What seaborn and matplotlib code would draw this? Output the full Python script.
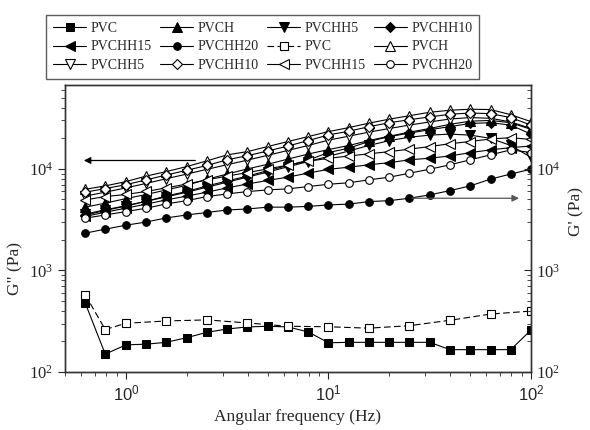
import numpy as np
import pandas as pd
import seaborn as sns
from matplotlib import pyplot as plt

# angular frequency (Hz), 5 points per decade
freq = [0.63, 0.79, 1.0, 1.26, 1.58, 2.0, 2.51, 3.16, 3.98, 5.01, 6.31, 7.94,
        10, 12.6, 15.8, 20, 25.1, 31.6, 39.8, 50.1, 63.1, 79.4, 100]

# filled markers
pvc_f = [475, 150, 185, 188, 196, 218, 246, 265, 278, 282, 278, 248,
         194, 196, 196, 196, 196, 196, 166, 166, 166, 166, 259]
pvch_f = [4200, 4600, 5100, 5600, 6200, 6900, 7900, 8900, 10000, 11100, 12500, 14000,
          15500, 17000, 19000, 21000, 23000, 25000, 27500, 29500, 30000, 28500, 24500]
pvchh5_f = [3600, 3950, 4350, 4800, 5300, 5900, 6600, 7400, 8300, 9300, 10500, 11800,
            13300, 15000, 17000, 19000, 20500, 21500, 22000, 21500, 20000, 17000, 13000]
pvchh10_f = [3500, 3900, 4300, 4800, 5400, 6000, 6800, 7600, 8500, 9600, 10800, 12200,
             14500, 16000, 18600, 20800, 22500, 24300, 26100, 28000, 28500, 27000, 22000]
pvchh15_f = [3400, 3750, 4100, 4500, 4950, 5400, 5900, 6500, 7100, 7700, 8300, 9100,
             9900, 10400, 10970, 11530, 12280, 12750, 13400, 14460, 15400, 16200, 16800]
pvchh20_f = [2330, 2550, 2790, 3000, 3290, 3520, 3720, 3940, 4030, 4200, 4200, 4270,
             4420, 4500, 4760, 4870, 5140, 5550, 6110, 6800, 7930, 8900, 9930]

# open markers
freq_pvc_o = [0.63, 0.79, 1.0, 1.58, 2.51, 3.98, 6.31, 10, 15.8, 25.1, 39.8, 63.1, 100]
pvc_o = [574, 262, 302, 318, 326, 304, 282, 279, 270, 286, 323, 372, 398]
pvch_o = [6300, 6800, 7500, 8500, 9400, 10550, 12000, 13750, 14800, 16600, 18600, 20800,
          23300, 25500, 28200, 30900, 33400, 36100, 37800, 38700, 38400, 34200, 29200]
pvchh5_o = [5400, 5900, 6500, 7200, 8000, 8900, 9900, 11000, 12200, 13600, 15200, 17000,
            19200, 21000, 23000, 25000, 27000, 29000, 31000, 32000, 31500, 29000, 25000]
pvchh10_o = [5900, 6400, 7000, 7800, 8700, 9700, 10800, 12300, 13500, 15000, 16800, 19000,
             21600, 23500, 26000, 28500, 30500, 32500, 34500, 35500, 35000, 32000, 27000]
pvchh15_o = [4950, 5340, 5600, 6000, 6500, 7100, 7800, 8500, 9200, 10000, 10900, 11900,
             12700, 13400, 14070, 14800, 15640, 16600, 17700, 18600, 19700, 20300, 19500]
pvchh20_o = [3270, 3520, 3800, 4100, 4520, 4870, 5340, 5670, 5980, 6210, 6360, 6700,
             7060, 7300, 7800, 8290, 9070, 9930, 10970, 12280, 13750, 15400, 14500]

labels = ["PVC", "PVCH", "PVCHH5", "PVCHH10", "PVCHH15", "PVCHH20"]
marks = ["s", "^", "v", "D", "<", "o"]
filled = [pvc_f, pvch_f, pvchh5_f, pvchh10_f, pvchh15_f, pvchh20_f]
opened = [pvc_o, pvch_o, pvchh5_o, pvchh10_o, pvchh15_o, pvchh20_o]

sns.set_style("ticks")
plt.rcParams['font.family'] = ['Liberation Serif', 'DejaVu Serif']
plt.rcParams['mathtext.fontset'] = 'custom'
plt.rcParams['mathtext.rm'] = 'Liberation Serif'

fig = plt.figure(figsize=(5.9, 4.3), dpi=100)
ax = fig.add_axes([65 / 590, 58 / 430, 466 / 590, 287 / 430])


def msize(m):
    if m == "D":
        return 5
    if m in ("s", "o"):
        return 5.5
    return 6.5


for lab, m, vals in zip(labels, marks, filled):
    sns.lineplot(x=freq, y=vals, ax=ax, color="black", lw=0.8, marker=m,
                 markersize=msize(m), markerfacecolor="black", markeredgecolor="black",
                 label=lab, estimator=None, sort=False)
for lab, m, vals in zip(labels, marks, opened):
    xs = freq_pvc_o if lab == "PVC" else freq
    ls = (0, (6, 3)) if lab == "PVC" else "-"
    sns.lineplot(x=xs, y=vals, ax=ax, color="black", lw=0.8, marker=m, linestyle=ls,
                 markersize=msize(m), markerfacecolor="white", markeredgecolor="black",
                 markeredgewidth=0.8, label=lab, estimator=None, sort=False)

ax.set_xscale("log")
ax.set_yscale("log")
ax.set_xlim(0.5, 100)
ax.set_ylim(100, 67000)

# arrows pointing to the axes
ax.annotate("", xy=(0.6, 12100), xytext=(2.27, 12100),
            arrowprops=dict(arrowstyle="-|>", color="black", lw=0.9, mutation_scale=10))
ax.annotate("", xy=(90, 5140), xytext=(25, 5140),
            arrowprops=dict(arrowstyle="-|>", color="#555555", lw=0.9, mutation_scale=10))

ax.set_xlabel("Angular frequency (Hz)", fontsize=12.5)
ax.set_ylabel("G\" (Pa)", fontsize=12.5)
ax.yaxis.set_label_coords(-0.09, 0.36)
ax.tick_params(which="both", direction="out", top=False, right=False, labelsize=12)
ax.tick_params(which="major", length=5)
ax.tick_params(which="minor", length=3)
for t in ax.get_xticklabels():
    t.set_fontfamily("Liberation Sans")

ax2 = ax.twinx()
ax2.set_yscale("log")
ax2.set_ylim(ax.get_ylim())
ax2.tick_params(which="both", direction="in", labelsize=12)
ax2.tick_params(which="major", length=5)
ax2.tick_params(which="minor", length=3)
ax2.set_ylabel("G' (Pa)", fontsize=12.5)
ax2.yaxis.set_label_coords(1.08, 0.56)

for a in (ax, ax2):
    for s in a.spines.values():
        s.set_color("#333333")
        s.set_linewidth(1.0)

h, l = ax.get_legend_handles_labels()
ax.get_legend().remove()
order = [r * 4 + c for c in range(4) for r in range(3)]
leg = fig.legend([h[i] for i in order], [l[i] for i in order], ncol=4,
                 loc="upper left", bbox_to_anchor=(46 / 590, 1 - 15 / 430),
                 fontsize=10, frameon=True, fancybox=False, edgecolor="#333333",
                 handlelength=2.4, handletextpad=0.3, columnspacing=0.6,
                 labelspacing=0.4, borderpad=0.5, borderaxespad=0)
leg.get_frame().set_linewidth(1.0)

fig.savefig("out.png", dpi=100)
